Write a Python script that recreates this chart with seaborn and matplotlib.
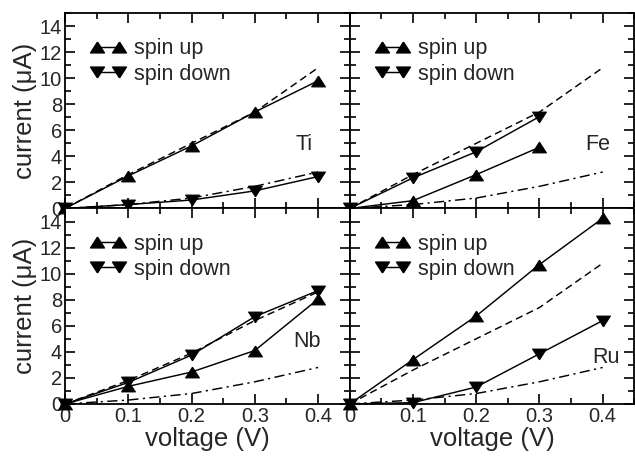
import numpy as np
import pandas as pd
import matplotlib
matplotlib.use("Agg")
import matplotlib.pyplot as plt
from matplotlib.lines import Line2D
from matplotlib.ticker import MultipleLocator, FuncFormatter
import seaborn as sns

voltage = [0.0, 0.1, 0.2, 0.3, 0.4]
metals = ["Ti", "Fe", "Nb", "Ru"]

spin_up = {
    "Ti": [0.0, 2.5, 4.8, 7.4, 9.8],
    "Fe": [0.0, 0.6, 2.6, 4.7],
    "Nb": [0.0, 1.35, 2.45, 4.1, 8.05],
    "Ru": [0.0, 3.4, 6.75, 10.7, 14.25],
}
spin_down = {
    "Ti": [0.0, 0.3, 0.65, 1.35, 2.45],
    "Fe": [0.0, 2.35, 4.35, 7.05],
    "Nb": [0.0, 1.65, 3.75, 6.7, 8.7],
    "Ru": [0.0, 0.1, 1.3, 3.85, 6.4],
}
ref_dashed = {
    "Ti": [0.0, 2.6, 5.0, 7.4, 10.8],
    "Fe": [0.0, 2.6, 5.0, 7.4, 10.8],
    "Nb": [0.0, 1.8, 3.9, 6.4, 8.6],
    "Ru": [0.0, 2.6, 5.0, 7.4, 10.8],
}
ref_dashdot = [0.0, 0.3, 0.8, 1.7, 2.8]

legend_labels = ["spin up", "spin down"]
xlabel = "voltage (V)"
ylabel = "current (\u03bcA)"
xticks = [0.0, 0.1, 0.2, 0.3, 0.4]
yticks = [0, 2, 4, 6, 8, 10, 12, 14]

sns.set_style("ticks")
plt.rcParams["font.family"] = ["Liberation Sans", "DejaVu Sans"]

TRI_UP = [(0, 0.78), (-1, -0.78), (1, -0.78), (0, 0.78)]
TRI_DN = [(0, -0.78), (-1, 0.78), (1, 0.78), (0, -0.78)]
MS = 10

fig, axes = plt.subplots(2, 2, figsize=(6.35, 4.58), dpi=100)
fig.subplots_adjust(left=0.1024, right=0.999, bottom=0.118, top=0.9716,
                    wspace=0, hspace=0)

text_pos = {"Ti": (0.378, 4.9), "Fe": (0.392, 4.9), "Nb": (0.383, 4.8), "Ru": (0.405, 3.6)}

for ax, m in zip(axes.flat, metals):
    sns.lineplot(x=voltage, y=ref_dashed[m], ax=ax, color="k", lw=1.05,
                 linestyle=(0, (5, 3)))
    sns.lineplot(x=voltage, y=ref_dashdot, ax=ax, color="k", lw=1.05,
                 linestyle=(0, (7, 3, 1.5, 3)))
    up = spin_up[m]
    sns.lineplot(x=voltage[:len(up)], y=up, ax=ax, color="k", lw=1.05,
                 marker=TRI_UP, markersize=MS, markeredgecolor="k", clip_on=False,
                 zorder=5)
    dn = spin_down[m]
    sns.lineplot(x=voltage[:len(dn)], y=dn, ax=ax, color="k", lw=1.05,
                 marker=TRI_DN, markersize=MS, markeredgecolor="k", clip_on=False,
                 zorder=5)
    ax.set_xlim(0, 0.45)
    ax.set_ylim(0, 15)
    ax.set_xticks(xticks)
    ax.set_yticks(yticks)
    ax.xaxis.set_minor_locator(MultipleLocator(0.05))
    ax.yaxis.set_minor_locator(MultipleLocator(1))
    ax.xaxis.set_major_formatter(FuncFormatter(lambda v, p: "0" if abs(v) < 1e-9 else f"{v:.1f}"))
    ax.tick_params(which="both", direction="in", top=True, right=True,
                   labelsize=14.5, width=1.2, color="k", pad=2)
    ax.tick_params(which="major", length=7)
    ax.tick_params(which="minor", length=4)
    for s in ax.spines.values():
        s.set_linewidth(1.3)
        s.set_color("k")
    ax.text(*text_pos[m], m, fontsize=15.5, ha="center", va="center")
    handles = [
        Line2D([], [], color="k", lw=1.05, marker=TRI_UP, markersize=MS),
        Line2D([], [], color="k", lw=1.05, marker=TRI_DN, markersize=MS),
    ]
    ax.legend(handles, legend_labels, loc="upper left", frameon=False,
              fontsize=15.5, numpoints=2, handlelength=1.6, handletextpad=0.4,
              labelspacing=0.2, borderaxespad=0.0, bbox_to_anchor=(0.06, 0.915))
    ax.set_xlabel("")
    ax.set_ylabel("")

for ax in axes[0]:
    ax.tick_params(labelbottom=False)
for ax in axes[:, 1]:
    ax.tick_params(labelleft=False)
for ax in axes[:, 0]:
    ax.set_ylabel(ylabel, fontsize=18.5, labelpad=2)
for ax in axes[1]:
    ax.set_xlabel(xlabel, fontsize=18.5, labelpad=1)

fig.savefig("out.png", dpi=100)
